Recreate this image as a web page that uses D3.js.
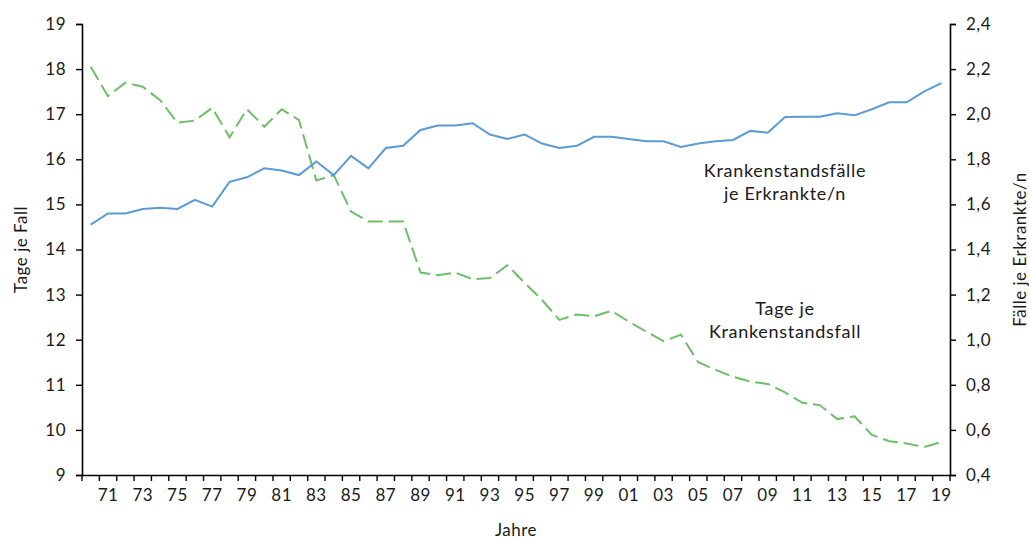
<!DOCTYPE html>
<html>
<head>
<meta charset="utf-8">
<script src="https://cdn.jsdelivr.net/npm/d3@7"></script>
<style>
  body { margin: 0; background: #fff; }
  svg text { font-family: 'Century Gothic', 'Lato', 'Noto Sans', sans-serif; fill: #1a1a1a; }
</style>
</head>
<body>
<div id="chart"></div>
<script>
// years 1970..2019
const years = d3.range(1970, 2020)

// Tage je Krankenstandsfall (left axis)
const tageJeFall = [
  18.05, 17.40, 17.70, 17.61, 17.31, 16.81, 16.86, 17.14, 16.49, 17.11,
  16.72, 17.11, 16.87, 15.53, 15.65, 14.84, 14.62, 14.62, 14.62, 13.49,
  13.43, 13.49, 13.34, 13.37, 13.65, 13.26, 12.88, 12.44, 12.56, 12.52,
  12.64, 12.40, 12.18, 11.97, 12.11, 11.50, 11.33, 11.18, 11.07, 11.02,
  10.83, 10.60, 10.55, 10.24, 10.30, 9.89, 9.75, 9.70, 9.62, 9.73
]

// Krankenstandsfälle je Erkrankte/n (right axis)
const faelleJeErkrankte = [
  1.51, 1.56, 1.56, 1.58, 1.585, 1.58, 1.62, 1.59, 1.70, 1.72,
  1.76, 1.75, 1.73, 1.79, 1.73, 1.815, 1.76, 1.85, 1.86, 1.93,
  1.95, 1.95, 1.96, 1.91, 1.89, 1.91, 1.87, 1.85, 1.86, 1.90,
  1.90, 1.89, 1.88, 1.88, 1.855, 1.87, 1.88, 1.886, 1.926, 1.918,
  1.988, 1.989, 1.989, 2.004, 1.995, 2.022, 2.053, 2.053, 2.10, 2.138
]

const leftTicks = d3.range(9, 20, 1)
const rightTicks = [0.4, 0.6, 0.8, 1.0, 1.2, 1.4, 1.6, 1.8, 2.0, 2.2, 2.4]

const width = 1029, height = 541
const margin = {top: 24, right: 79, bottom: 66, left: 82}
const w = width - margin.left - margin.right
const h = height - margin.top - margin.bottom

const svg = d3.select('#chart').append('svg')
    .attr('width', width)
    .attr('height', height)

const g = svg.append('g')
    .attr('transform', 'translate(' + margin.left + ',' + margin.top + ')')

const x = d3.scaleBand()
    .domain(years)
    .range([0, w])
    .padding(0)

const yL = d3.scaleLinear().domain([9, 19]).range([h, 0])
const yR = d3.scaleLinear().domain([0.4, 2.4]).range([h, 0])

const fmt = d => d3.format('.1f')(d).replace('.', ',')

// left axis
const leftAxis = g.append('g')
    .call(d3.axisLeft(yL).tickValues(leftTicks).tickSize(6).tickPadding(10))
leftAxis.selectAll('text').style('font-size', '17px').style('letter-spacing', '0.5px')

// right axis
const rightAxis = g.append('g')
    .attr('transform', 'translate(' + w + ',0)')
    .call(d3.axisRight(yR).tickValues(rightTicks).tickFormat(fmt).tickSize(6).tickPadding(10))
rightAxis.selectAll('text').style('font-size', '17px').style('letter-spacing', '0.5px')

// x axis: ticks between categories, labels on every second year
const xAxis = g.append('g')
    .attr('transform', 'translate(0,' + h + ')')
    .call(d3.axisBottom(x)
        .tickSize(0)
        .tickPadding(14)
        .tickFormat(d => (d % 2 === 1) ? String(d).slice(2) : ''))
xAxis.selectAll('text').style('font-size', '17px').style('letter-spacing', '0.5px')

const boundaries = years.map(d => x(d)).concat([w])
xAxis.selectAll('line.sep')
    .data(boundaries)
    .join('line')
        .attr('class', 'sep')
        .attr('x1', d => d)
        .attr('x2', d => d)
        .attr('y1', 0)
        .attr('y2', 6)
        .attr('stroke', '#000')

svg.selectAll('.domain').attr('stroke', '#000').attr('stroke-width', 1.6)
svg.selectAll('.tick line').attr('stroke', '#000').attr('stroke-width', 1.4)
xAxis.selectAll('line.sep').attr('stroke-width', 1.4)

// lines
const lineL = d3.line()
    .x((d, i) => x(years[i]) + x.bandwidth() / 2)
    .y(d => yL(d))
const lineR = d3.line()
    .x((d, i) => x(years[i]) + x.bandwidth() / 2)
    .y(d => yR(d))

g.append('path')
    .datum(tageJeFall)
    .attr('d', lineL)
    .attr('fill', 'none')
    .attr('stroke', '#6dbf67')
    .attr('stroke-width', 2)
    .attr('stroke-dasharray', '15,6')

g.append('path')
    .datum(faelleJeErkrankte)
    .attr('d', lineR)
    .attr('fill', 'none')
    .attr('stroke', '#5b9bd5')
    .attr('stroke-width', 2)

// annotations
const notes = [
  {lines: ['Krankenstandsfälle', 'je Erkrankte/n'], x: 785, y: 177},
  {lines: ['Tage je', 'Krankenstandsfall'], x: 785, y: 315}
]
notes.forEach(n => {
    svg.append('text')
        .attr('x', n.x)
        .attr('y', n.y)
        .attr('text-anchor', 'middle')
        .style('font-size', '18px')
        .style('letter-spacing', '0.7px')
        .selectAll('tspan')
        .data(n.lines)
        .join('tspan')
            .attr('x', n.x)
            .attr('dy', (d, i) => i === 0 ? 0 : 23)
            .text(d => d)
})

// axis titles
svg.append('text')
    .attr('transform', 'translate(27,' + (margin.top + h / 2) + ') rotate(-90)')
    .attr('text-anchor', 'middle')
    .style('font-size', '17px')
    .style('letter-spacing', '0.5px')
    .text('Tage je Fall')

svg.append('text')
    .attr('transform', 'translate(1026,' + (margin.top + h / 2) + ') rotate(-90)')
    .attr('text-anchor', 'middle')
    .style('font-size', '17px')
    .style('letter-spacing', '0.5px')
    .text('Fälle je Erkrankte/n')

svg.append('text')
    .attr('x', margin.left + w / 2)
    .attr('y', 536)
    .attr('text-anchor', 'middle')
    .style('font-size', '17px')
    .style('letter-spacing', '0.5px')
    .text('Jahre')
</script>
</body>
</html>
